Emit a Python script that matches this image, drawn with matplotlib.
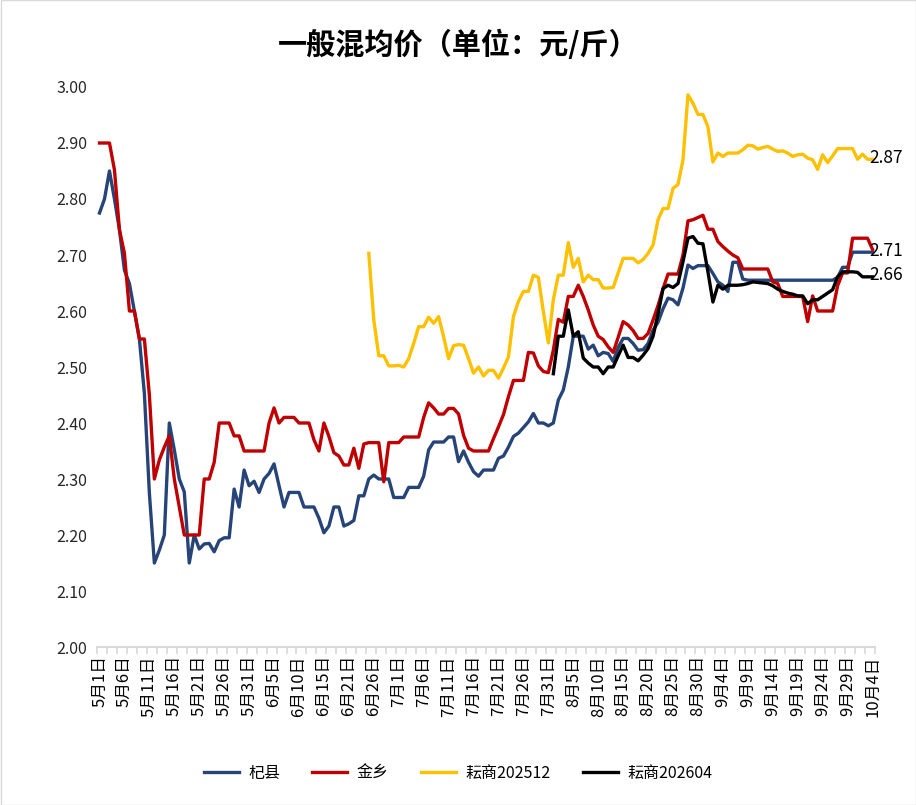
import numpy as np
import matplotlib
matplotlib.use("Agg")
import matplotlib.pyplot as plt
from matplotlib.patches import Rectangle

plt.rcParams['font.family'] = ['Noto Sans CJK SC', 'DejaVu Sans']

# ---- categories (daily, one day missing in mid-June) ----
months = [(5, 31), (6, 30), (7, 31), (8, 31), (9, 30), (10, 4)]
missing_day = (6, 20)
dates = [f"{m}月{d}日" for m, n in months for d in range(1, n + 1) if (m, d) != missing_day]
tick_every = 5

series_names = ["杞县", "金乡", "耘商202512", "耘商202604"]

qixian = [
    2.775, 2.80, 2.85, 2.80, 2.745, 2.673, 2.649, 2.60, 2.55, 2.453,
    2.275, 2.15, 2.173, 2.20, 2.40, 2.352, 2.30, 2.277, 2.15, 2.20,
    2.175, 2.184, 2.185, 2.17, 2.19, 2.195, 2.195, 2.282, 2.25, 2.316,
    2.288, 2.296, 2.276, 2.30, 2.31, 2.327, 2.288, 2.25, 2.276, 2.276,
    2.276, 2.25, 2.25, 2.25, 2.23, 2.204, 2.216, 2.25, 2.25, 2.216,
    2.22, 2.226, 2.27, 2.27, 2.30, 2.307, 2.30, 2.30, 2.30, 2.267,
    2.267, 2.267, 2.285, 2.285, 2.285, 2.305, 2.352, 2.366, 2.366, 2.366,
    2.375, 2.375, 2.331, 2.35, 2.33, 2.313, 2.305, 2.316, 2.316, 2.316,
    2.337, 2.341, 2.357, 2.376, 2.382, 2.392, 2.402, 2.417, 2.40, 2.40,
    2.395, 2.40, 2.441, 2.459, 2.50, 2.555, 2.555, 2.555, 2.532, 2.539,
    2.52, 2.526, 2.524, 2.51, 2.535, 2.551, 2.551, 2.542, 2.53, 2.531,
    2.542, 2.566, 2.58, 2.604, 2.623, 2.62, 2.611, 2.641, 2.682, 2.676,
    2.681, 2.681, 2.681, 2.667, 2.652, 2.646, 2.635, 2.687, 2.687, 2.657,
    2.655, 2.655, 2.655, 2.655, 2.655, 2.655, 2.655, 2.655, 2.655, 2.655,
    2.655, 2.655, 2.655, 2.655, 2.655, 2.655, 2.655, 2.655, 2.66, 2.678,
    2.678, 2.705, 2.705, 2.705, 2.705, 2.705,
]

jinxiang = [
    2.90, 2.90, 2.90, 2.852, 2.745, 2.703, 2.60, 2.60, 2.55, 2.55,
    2.45, 2.30, 2.334, 2.357, 2.377, 2.30, 2.25, 2.20, 2.20, 2.20,
    2.20, 2.30, 2.30, 2.33, 2.40, 2.40, 2.40, 2.377, 2.377, 2.35,
    2.35, 2.35, 2.35, 2.35, 2.40, 2.427, 2.40, 2.41, 2.41, 2.41,
    2.40, 2.40, 2.40, 2.37, 2.35, 2.40, 2.376, 2.347, 2.341, 2.325,
    2.325, 2.355, 2.319, 2.3625, 2.365, 2.365, 2.365, 2.295, 2.365, 2.365,
    2.365, 2.375, 2.375, 2.375, 2.375, 2.41, 2.436, 2.427, 2.416, 2.416,
    2.426, 2.426, 2.416, 2.378, 2.355, 2.35, 2.35, 2.35, 2.35, 2.372,
    2.393, 2.415, 2.447, 2.476, 2.476, 2.476, 2.526, 2.525, 2.502, 2.492,
    2.49, 2.53, 2.585, 2.58, 2.626, 2.626, 2.646, 2.626, 2.602, 2.575,
    2.555, 2.549, 2.536, 2.526, 2.553, 2.581, 2.575, 2.565, 2.551, 2.551,
    2.56, 2.584, 2.61, 2.64, 2.666, 2.666, 2.666, 2.70, 2.761, 2.763,
    2.767, 2.771, 2.746, 2.746, 2.724, 2.715, 2.707, 2.70, 2.695, 2.675,
    2.675, 2.675, 2.675, 2.675, 2.675, 2.652, 2.649, 2.626, 2.626, 2.626,
    2.626, 2.626, 2.581, 2.627, 2.60, 2.60, 2.60, 2.60, 2.645, 2.668,
    2.668, 2.73, 2.73, 2.73, 2.73, 2.71,
]

ys2512_start = "6月25日"
yunshang2512 = [
    2.703, 2.584, 2.52, 2.52, 2.502, 2.502, 2.503, 2.50, 2.515, 2.542,
    2.572, 2.572, 2.589, 2.578, 2.59, 2.554, 2.515, 2.538, 2.54, 2.539,
    2.515, 2.489, 2.50, 2.484, 2.494, 2.494, 2.48, 2.498, 2.518, 2.59,
    2.617, 2.635, 2.635, 2.664, 2.66, 2.599, 2.543, 2.62, 2.664, 2.664,
    2.722, 2.678, 2.694, 2.652, 2.664, 2.656, 2.656, 2.641, 2.641, 2.642,
    2.668, 2.694, 2.694, 2.694, 2.686, 2.692, 2.703, 2.718, 2.763, 2.783,
    2.783, 2.819, 2.826, 2.87, 2.986, 2.971, 2.951, 2.951, 2.929, 2.866,
    2.882, 2.876, 2.882, 2.882, 2.882, 2.888, 2.896, 2.895, 2.889, 2.892,
    2.894, 2.889, 2.885, 2.886, 2.882, 2.876, 2.879, 2.88, 2.873, 2.87,
    2.853, 2.879, 2.865, 2.877, 2.89, 2.89, 2.89, 2.89, 2.871, 2.88,
    2.871, 2.871,
]

ys2604_start = "8月1日"
yunshang2604 = [
    2.488, 2.555, 2.555, 2.602, 2.555, 2.563, 2.516, 2.507, 2.50, 2.50,
    2.488, 2.50, 2.50, 2.52, 2.539, 2.517, 2.517, 2.511, 2.521, 2.533,
    2.555, 2.595, 2.64, 2.646, 2.642, 2.649, 2.688, 2.73, 2.733, 2.721,
    2.72, 2.67, 2.616, 2.646, 2.639, 2.646, 2.646, 2.646, 2.647, 2.649,
    2.652, 2.651, 2.65, 2.649, 2.645, 2.639, 2.635, 2.632, 2.63, 2.627,
    2.627, 2.613, 2.62, 2.62, 2.626, 2.632, 2.638, 2.661, 2.67, 2.67,
    2.67, 2.669, 2.661, 2.661, 2.661,
]

end_labels = ["2.87", "2.71", "2.66"]

colors = ["#264478", "#C00000", "#FFC000", "#000000"]

W, H = 916, 805
fig = plt.figure(figsize=(W / 100, H / 100), dpi=100)
ax = fig.add_axes([97 / W, 1 - 647 / H, (875 - 97) / W, (647 - 87) / H])

n = len(dates)
x_all = np.arange(n)
s1 = dates.index(ys2512_start)
s2 = dates.index(ys2604_start)

lw = 2.4
ax.plot(x_all, qixian, color=colors[0], lw=lw, label=series_names[0], solid_joinstyle='round')
ax.plot(x_all, jinxiang, color=colors[1], lw=lw, label=series_names[1], solid_joinstyle='round')
ax.plot(np.arange(s1, s1 + len(yunshang2512)), yunshang2512, color=colors[2], lw=lw,
        label=series_names[2], solid_joinstyle='round')
ax.plot(np.arange(s2, s2 + len(yunshang2604)), yunshang2604, color=colors[3], lw=lw,
        label=series_names[3], solid_joinstyle='round')

# end labels
for val, txt in [(yunshang2512[-1], end_labels[0]), (qixian[-1], end_labels[1]),
                 (yunshang2604[-1], end_labels[2])]:
    ax.annotate(txt, xy=(n - 1, val), xytext=(-2, 1), textcoords='offset points',
                ha='left', va='center', fontsize=12.5, color='#000000',
                annotation_clip=False)

ax.set_xlim(-0.5, n - 0.5)
ax.set_ylim(2.0, 3.0)
ax.set_yticks(np.arange(2.0, 3.001, 0.1))
ax.set_yticklabels([f"{v:.2f}" for v in np.arange(2.0, 3.001, 0.1)], fontsize=11.5, color='#262626')
ax.tick_params(axis='y', length=0, pad=7)

major = list(range(0, n, tick_every))
ax.set_xticks(major)
ax.set_xticklabels([dates[i] for i in major], rotation=90, fontsize=12, color='#000000')
ax.set_xticks(np.arange(-0.5, n, 2), minor=True)
ax.tick_params(axis='x', which='major', length=0, pad=6)
ax.tick_params(axis='x', which='minor', length=5, width=1.2, color='#d9d9d9', direction='out')

for side in ['left', 'right', 'top']:
    ax.spines[side].set_visible(False)
ax.spines['bottom'].set_color('#d9d9d9')
ax.spines['bottom'].set_linewidth(1.5)

fig.text(0.5, 1 - 45 / H, "一般混均价（单位：元/斤）", ha='center', va='center',
         fontsize=21, fontweight='bold', color='#000000')

handles, labels = ax.get_legend_handles_labels()
fig.legend(handles, labels, loc='center', bbox_to_anchor=(0.5, 1 - 773 / H), ncol=4,
           frameon=False, fontsize=11.5, handlelength=2.2, columnspacing=2.0, handletextpad=0.6)

fig.patches.append(Rectangle((0.5 / W, 0.5 / H), 1 - 1 / W, 1 - 1 / H, transform=fig.transFigure,
                             fill=False, edgecolor='#d9d9d9', lw=1))

fig.savefig("out.png", dpi=100)
